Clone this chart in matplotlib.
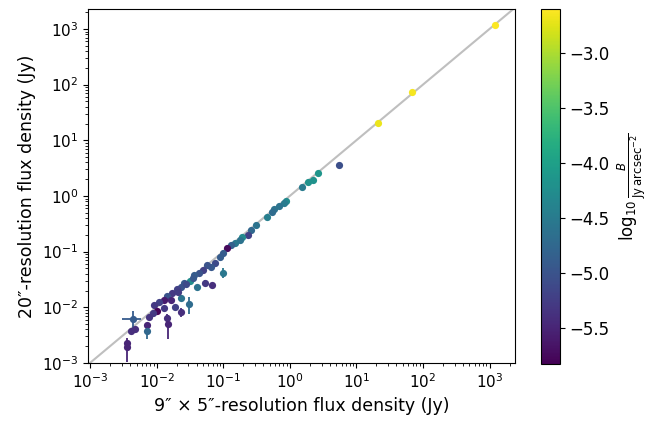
import numpy as np
import matplotlib
matplotlib.use('Agg')
import matplotlib.pyplot as plt
import matplotlib.colors as mcolors

# flux densities (Jy) at 9"x5" and 20" resolution, plus surface brightness colour
flux_9x5 = [1200, 68, 21, 5.4, 2.7, 2.2, 1.85, 1.55, 0.87, 0.81, 0.68, 0.59, 0.55, 0.45,
            0.31, 0.26, 0.24, 0.19, 0.18, 0.148, 0.133, 0.116, 0.10, 0.091, 0.076, 0.066,
            0.058, 0.049, 0.044, 0.037, 0.032, 0.026, 0.0236, 0.098, 0.054, 0.069, 0.040,
            0.0204, 0.0173, 0.0145, 0.013, 0.011, 0.0093, 0.0236, 0.031, 0.0166, 0.0186,
            0.0127, 0.0102, 0.0087, 0.0078, 0.023, 0.0145, 0.0044, 0.0071, 0.0073, 0.0047,
            0.0041, 0.015, 0.0036, 0.0036, 0.028, 0.035, 0.021]
flux_20 = [1180, 74, 20.5, 3.6, 2.6, 1.95, 1.8, 1.45, 0.81, 0.76, 0.66, 0.59, 0.52, 0.42,
           0.30, 0.245, 0.20, 0.185, 0.16, 0.145, 0.132, 0.117, 0.096, 0.081, 0.063, 0.054,
           0.058, 0.047, 0.042, 0.038, 0.030, 0.0275, 0.0234, 0.042, 0.0275, 0.025, 0.0234,
           0.0214, 0.0182, 0.016, 0.0136, 0.0125, 0.011, 0.0148, 0.0114, 0.0136, 0.0102,
           0.0098, 0.0087, 0.0080, 0.0068, 0.0083, 0.0065, 0.0062, 0.0049, 0.0037, 0.0040,
           0.0037, 0.0050, 0.0023, 0.0019, 0.026, 0.033, 0.019]
err_9x5 = [0] * 53 + [0.0014] + [0] * 10
err_20 = [0] * 33 + [0.009, 0.003, 0, 0, 0, 0, 0, 0, 0, 0, 0.002, 0.0038, 0, 0, 0, 0, 0, 0,
                     0.0015, 0.001, 0.0025, 0, 0.001, 0, 0, 0.0023, 0, 0.00085, 0, 0, 0]
log_B = [-2.62, -2.65, -2.70, -5.05, -4.15, -4.2, -4.2, -4.5, -4.3, -4.5, -4.6, -4.6, -4.7,
         -4.45, -4.6, -4.75, -5.2, -4.3, -4.6, -4.55, -4.85, -5.75, -4.9, -4.9, -5.1, -4.95,
         -5.0, -5.2, -5.0, -4.9, -4.25, -4.95, -5.0, -4.55, -5.3, -5.4, -4.6, -5.2, -5.3,
         -5.0, -5.6, -5.2, -5.3, -4.6, -4.7, -5.5, -5.2, -5.3, -5.8, -5.3, -5.35, -5.4, -5.4,
         -4.9, -5.5, -4.75, -5.4, -5.4, -5.5, -5.5, -5.5, -5.1, -4.95, -5.25]

vmin, vmax = -5.83, -2.60
cmap = plt.get_cmap('viridis')
norm = mcolors.Normalize(vmin=vmin, vmax=vmax)

fig = plt.figure(figsize=(6.66, 4.22), dpi=100)
ax = fig.add_axes([0.132, 0.140, 0.641, 0.839])
cax = fig.add_axes([0.813, 0.137, 0.0275, 0.842])

ax.plot([1e-4, 1e4], [1e-4, 1e4], color='0.75', lw=1.5, zorder=1)
for x, y, ex, ey, b in zip(flux_9x5, flux_20, err_9x5, err_20, log_B):
    c = cmap(norm(b))
    ax.errorbar(x, y, xerr=ex if ex else None, yerr=ey if ey else None,
                fmt='o', ms=5.2, color=c, mec='none', elinewidth=1.3, zorder=2)

ax.set_xscale('log')
ax.set_yscale('log')
ax.set_xlim(9.3e-4, 2.4e3)
ax.set_ylim(1.0e-3, 2.3e3)
ax.set_xlabel('9\u2033 \u00d7 5\u2033-resolution flux density (Jy)', fontsize=12.5)
ax.set_ylabel('20\u2033-resolution flux density (Jy)', fontsize=12.5)
ax.tick_params(labelsize=11)

sm = plt.cm.ScalarMappable(norm=norm, cmap=cmap)
cb = fig.colorbar(sm, cax=cax)
cb.ax.tick_params(labelsize=12)
cb.set_label(r'$\log_{10}\frac{B}{\mathrm{Jy\,arcsec^{-2}}}$', fontsize=12)

fig.savefig('out.png', dpi=100)
